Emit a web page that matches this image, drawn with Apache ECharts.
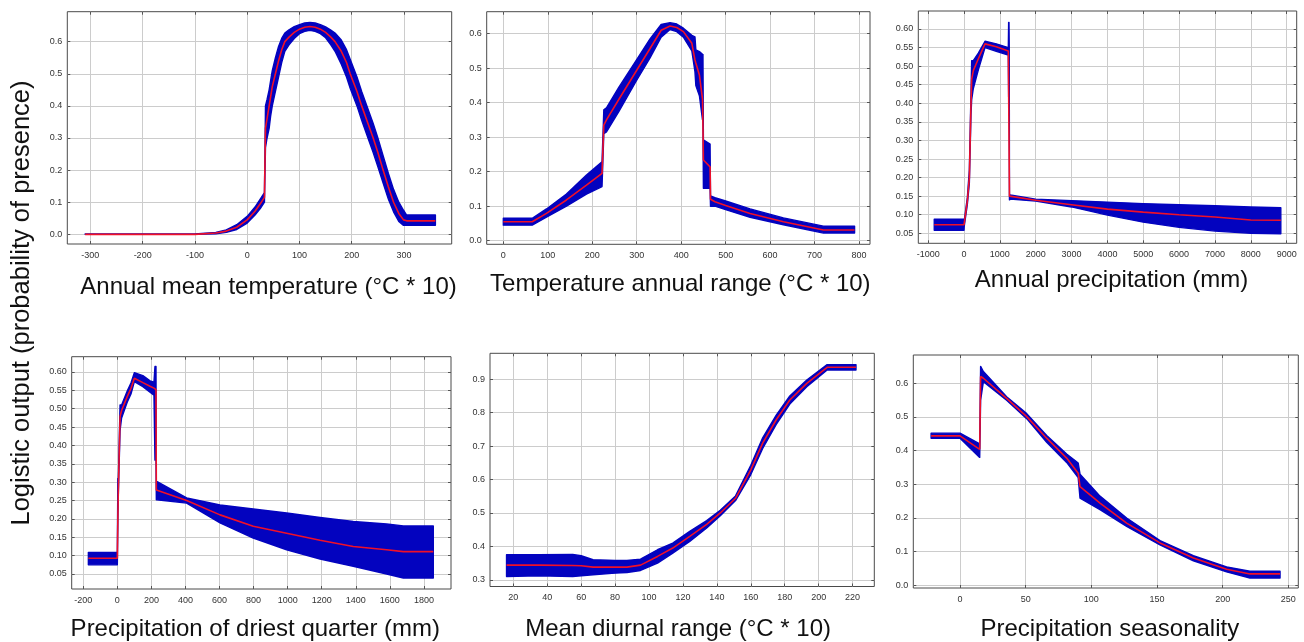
<!DOCTYPE html>
<html><head><meta charset="utf-8">
<script src="https://cdn.jsdelivr.net/npm/echarts@6/dist/echarts.min.js"></script>
<style>html,body{margin:0;padding:0;background:#fff}#c{width:1304px;height:642px}</style>
</head><body><div id="c"></div>
<script>
// ---------- Titles ----------
const yTitle = 'Logistic output (probability of presence)';
const titles = [
  'Annual mean temperature (°C * 10)',
  'Temperature annual range (°C * 10)',
  'Annual precipitation (mm)',
  'Precipitation of driest quarter (mm)',
  'Mean diurnal range (°C * 10)',
  'Precipitation seasonality'
];

// ---------- Tick values ----------
const p1XTicks = [-300,-200,-100,0,100,200,300];
const p1YTicks = [0,0.1,0.2,0.3,0.4,0.5,0.6];
const p2XTicks = [0,100,200,300,400,500,600,700,800];
const p2YTicks = [0,0.1,0.2,0.3,0.4,0.5,0.6];
const p3XTicks = [-1000,0,1000,2000,3000,4000,5000,6000,7000,8000,9000];
const p3YTicks = [0.05,0.10,0.15,0.20,0.25,0.30,0.35,0.40,0.45,0.50,0.55,0.60];
const p4XTicks = [-200,0,200,400,600,800,1000,1200,1400,1600,1800];
const p4YTicks = [0.05,0.10,0.15,0.20,0.25,0.30,0.35,0.40,0.45,0.50,0.55,0.60];
const p5XTicks = [20,40,60,80,100,120,140,160,180,200,220];
const p5YTicks = [0.3,0.4,0.5,0.6,0.7,0.8,0.9];
const p6XTicks = [0,50,100,150,200,250];
const p6YTicks = [0,0.1,0.2,0.3,0.4,0.5,0.6];

// ---------- Panel 1: Annual mean temperature ----------
const p1X    = [-310,-100,-60,-40,-20,0,15,25,33,35,38,42,45,48,54,60,66,72,80,90,100,110,120,130,140,150,160,168,180,190,197,210,219,230,241,250,260,270,280,290,299,305,360];
const p1Mean = [0,0,0.004,0.01,0.022,0.045,0.072,0.095,0.115,0.33,0.36,0.40,0.43,0.46,0.50,0.54,0.575,0.60,0.614,0.629,0.639,0.645,0.647,0.645,0.639,0.629,0.614,0.60,0.57,0.535,0.50,0.445,0.40,0.35,0.30,0.255,0.20,0.148,0.10,0.065,0.045,0.042,0.042];
const p1Lo   = [0,0,0.002,0.006,0.015,0.035,0.06,0.08,0.10,0.27,0.30,0.33,0.37,0.40,0.445,0.49,0.535,0.57,0.59,0.61,0.625,0.632,0.635,0.632,0.625,0.612,0.59,0.57,0.53,0.49,0.455,0.40,0.355,0.305,0.255,0.21,0.16,0.11,0.07,0.04,0.028,0.028,0.028];
const p1Hi   = [0.001,0.001,0.006,0.014,0.03,0.056,0.085,0.11,0.13,0.40,0.42,0.45,0.48,0.51,0.55,0.585,0.61,0.627,0.637,0.647,0.653,0.658,0.66,0.658,0.653,0.646,0.636,0.627,0.605,0.575,0.545,0.49,0.445,0.395,0.345,0.30,0.245,0.19,0.14,0.10,0.075,0.06,0.06];

// ---------- Panel 2: Temperature annual range ----------
const p2X    = [0,65,97,142,187,222,226,232,260,300,330,355,375,390,405,424,431,433,441,448,449,450,465,466,476,500,555,630,720,790];
const p2Mean = [0.055,0.055,0.079,0.118,0.161,0.195,0.335,0.35,0.41,0.494,0.557,0.61,0.622,0.618,0.606,0.572,0.524,0.515,0.48,0.41,0.33,0.234,0.214,0.12,0.113,0.102,0.079,0.055,0.031,0.031];
const p2Lo   = [0.045,0.045,0.068,0.10,0.135,0.157,0.31,0.315,0.375,0.465,0.53,0.59,0.612,0.606,0.59,0.55,0.49,0.45,0.42,0.35,0.35,0.152,0.152,0.10,0.10,0.09,0.068,0.046,0.022,0.022];
const p2Hi   = [0.065,0.065,0.092,0.135,0.19,0.229,0.379,0.385,0.445,0.525,0.585,0.627,0.632,0.628,0.616,0.595,0.591,0.553,0.548,0.54,0.54,0.292,0.28,0.13,0.125,0.115,0.092,0.066,0.042,0.042];

// ---------- Panel 3: Annual precipitation ----------
const p3X    = [-830,0,5,93,149,195,214,260,400,586,900,1236,1245,1255,1262,1268,1290,2000,3000,4000,5000,6000,7000,8000,8837];
const p3Mean = [0.073,0.073,0.075,0.137,0.20,0.40,0.465,0.488,0.52,0.56,0.552,0.541,0.54,0.54,0.54,0.15,0.148,0.139,0.127,0.115,0.107,0.1,0.094,0.086,0.085];
const p3Lo   = [0.058,0.058,0.068,0.128,0.185,0.37,0.41,0.44,0.49,0.55,0.54,0.53,0.416,0.416,0.53,0.14,0.142,0.137,0.121,0.099,0.08,0.066,0.056,0.05,0.049];
const p3Hi   = [0.088,0.088,0.083,0.146,0.22,0.43,0.515,0.515,0.535,0.567,0.56,0.55,0.618,0.618,0.55,0.155,0.153,0.142,0.138,0.134,0.13,0.127,0.124,0.121,0.119];

// ---------- Panel 4: Precipitation of driest quarter ----------
const p4X    = [-170,0,3,6,16,25,60,80,100,150,192,215,221,227,229,231,407,603,798,994,1190,1385,1581,1679,1855];
const p4Mean = [0.093,0.093,0.20,0.28,0.479,0.495,0.535,0.555,0.583,0.571,0.561,0.556,0.554,0.552,0.279,0.277,0.25,0.211,0.18,0.161,0.142,0.125,0.116,0.111,0.111];
const p4Lo   = [0.075,0.075,0.19,0.27,0.44,0.475,0.52,0.54,0.574,0.56,0.545,0.537,0.36,0.36,0.252,0.252,0.243,0.189,0.148,0.116,0.091,0.071,0.05,0.039,0.039];
const p4Hi   = [0.109,0.109,0.31,0.31,0.51,0.51,0.55,0.57,0.598,0.59,0.576,0.572,0.615,0.615,0.302,0.302,0.257,0.238,0.227,0.216,0.204,0.193,0.186,0.181,0.181];

// ---------- Panel 5: Mean diurnal range ----------
const p5X    = [16,35,55,60,67,80,87,95,105,114,124,134,142,151,160,167,175,183,193,205,222];
const p5Mean = [0.344,0.344,0.343,0.342,0.338,0.338,0.338,0.344,0.37,0.395,0.43,0.466,0.5,0.544,0.629,0.709,0.779,0.838,0.888,0.936,0.936];
const p5Lo   = [0.31,0.312,0.31,0.312,0.315,0.32,0.322,0.328,0.35,0.38,0.415,0.455,0.492,0.537,0.615,0.693,0.765,0.826,0.878,0.928,0.928];
const p5Hi   = [0.375,0.375,0.376,0.372,0.36,0.358,0.358,0.362,0.39,0.41,0.445,0.477,0.508,0.551,0.643,0.725,0.793,0.85,0.898,0.944,0.944];

// ---------- Panel 6: Precipitation seasonality ----------
const p6X    = [-22,0,15,15.7,17.8,35.5,50.8,66,81.2,90,91.4,106.6,126.9,152.3,177.7,203,220.8,243.7];
const p6Mean = [0.444,0.444,0.404,0.62,0.615,0.555,0.501,0.437,0.378,0.333,0.293,0.244,0.185,0.126,0.081,0.048,0.034,0.034];
const p6Lo   = [0.437,0.437,0.38,0.55,0.605,0.55,0.495,0.425,0.365,0.32,0.259,0.225,0.175,0.12,0.073,0.04,0.022,0.022];
const p6Hi   = [0.452,0.452,0.42,0.65,0.635,0.56,0.51,0.445,0.39,0.363,0.33,0.265,0.2,0.133,0.088,0.055,0.042,0.042];

// ---------- Assembly ----------
const BLUE = '#0303bf';
const RED = '#f01028';
const FONT = 'Liberation Sans, Arial, sans-serif';

const panels = [
  {xs:p1X, mean:p1Mean, lo:p1Lo, hi:p1Hi, xt:p1XTicks, yt:p1YTicks},
  {xs:p2X, mean:p2Mean, lo:p2Lo, hi:p2Hi, xt:p2XTicks, yt:p2YTicks},
  {xs:p3X, mean:p3Mean, lo:p3Lo, hi:p3Hi, xt:p3XTicks, yt:p3YTicks},
  {xs:p4X, mean:p4Mean, lo:p4Lo, hi:p4Hi, xt:p4XTicks, yt:p4YTicks},
  {xs:p5X, mean:p5Mean, lo:p5Lo, hi:p5Hi, xt:p5XTicks, yt:p5YTicks},
  {xs:p6X, mean:p6Mean, lo:p6Lo, hi:p6Hi, xt:p6XTicks, yt:p6YTicks}
];
// shift = horizontal offset of the axis title from the plot centre (px)
const layout = [
  {grid:[67.3,11.7,384.4,232.3], x:[-344.1,391.2], y:[-0.0301,0.6933], gap:31, dec:1, shift:9},
  {grid:[486.7,11.7,383.3,232.6], x:[-37.4,824.7], y:[-0.0105,0.6637], gap:28, dec:1, shift:2},
  {grid:[918.3,11,378.4,232.3], x:[-1275,9280], y:[0.0231,0.6485], gap:25.5, dec:2, shift:4},
  {grid:[71.7,356.7,379.3,232.6], x:[-267.9,1958.9], y:[0.0092,0.6416], gap:28, dec:2, shift:-6},
  {grid:[490,353.3,384.3,233.4], x:[6.25,232.8], y:[0.28,0.9778], gap:30.5, dec:1, shift:-4},
  {grid:[913.3,355,385,233.3], x:[-35.56,257.6], y:[-0.0078,0.684], gap:29, dec:1, shift:4}
];

const grids = [], xAxes = [], yAxes = [], series = [];
const tickStyle = {show:true, inside:true, length:3, lineStyle:{color:'#555', width:1}};
panels.forEach((p, i) => {
  const L = layout[i];
  const pad = L.shift >= 0 ? [0, 0, 0, 2 * L.shift] : [0, -2 * L.shift, 0, 0];
  grids.push({left:L.grid[0], top:L.grid[1], width:L.grid[2], height:L.grid[3],
    show:true, borderColor:'#4a4a4a', borderWidth:1, backgroundColor:'#fff'});
  xAxes.push({
    type:'value', gridIndex:i, position:'bottom', min:L.x[0], max:L.x[1],
    name:titles[i], nameLocation:'middle', nameGap:L.gap,
    nameTextStyle:{fontSize:24, color:'#111', fontFamily:FONT, padding:pad},
    axisLine:{show:false, onZero:false},
    axisTick:Object.assign({customValues:p.xt}, tickStyle),
    axisLabel:{customValues:p.xt, fontSize:9, color:'#333', fontFamily:FONT, margin:7,
      formatter:v => String(Math.round(v))},
    splitLine:{show:true, lineStyle:{color:'#cccccc', width:1}}
  });
  xAxes.push({
    type:'value', gridIndex:i, position:'top', min:L.x[0], max:L.x[1],
    axisLine:{show:false, onZero:false}, axisLabel:{show:false}, splitLine:{show:false},
    axisTick:Object.assign({customValues:p.xt}, tickStyle)
  });
  yAxes.push({
    type:'value', gridIndex:i, position:'left', min:L.y[0], max:L.y[1],
    axisLine:{show:false, onZero:false},
    axisTick:Object.assign({customValues:p.yt}, tickStyle),
    axisLabel:{customValues:p.yt, fontSize:9, color:'#333', fontFamily:FONT, margin:5,
      formatter:v => v.toFixed(L.dec)},
    splitLine:{show:true, lineStyle:{color:'#cccccc', width:1}}
  });
  yAxes.push({
    type:'value', gridIndex:i, position:'right', min:L.y[0], max:L.y[1],
    axisLine:{show:false, onZero:false}, axisLabel:{show:false}, splitLine:{show:false},
    axisTick:Object.assign({customValues:p.yt}, tickStyle)
  });
  const xs = p.xs, lo = p.lo, hi = p.hi;
  series.push({
    type:'custom', xAxisIndex:2*i, yAxisIndex:2*i, clip:true, silent:true, z:2,
    data: xs.map((x,k) => [x, lo[k], hi[k]]),
    encode:{x:0, y:[1,2]},
    renderItem:function(params, api){
      if (params.dataIndex !== 0) return null;
      const pts = [];
      for (let k = 0; k < xs.length; k++) pts.push(api.coord([xs[k], hi[k]]));
      for (let k = xs.length - 1; k >= 0; k--) pts.push(api.coord([xs[k], lo[k]]));
      return {type:'polygon', shape:{points:pts},
        style:{fill:BLUE, stroke:BLUE, lineWidth:1.4, lineJoin:'round'}};
    }
  });
  series.push({
    type:'line', xAxisIndex:2*i, yAxisIndex:2*i, z:3, silent:true,
    symbol:'none', showSymbol:false,
    lineStyle:{color:RED, width:1.6},
    data: xs.map((x,k) => [x, p.mean[k]])
  });
});

const chart = echarts.init(document.getElementById('c'), null, {renderer:'canvas'});
chart.setOption({
  animation:false,
  backgroundColor:'#fff',
  grid:grids, xAxis:xAxes, yAxis:yAxes, series:series,
  graphic:[{
    type:'text', x:22, y:303, rotation:Math.PI/2,
    style:{text:yTitle, fontSize:25.5, fontFamily:FONT, fill:'#111',
      align:'center', verticalAlign:'middle', textAlign:'center', textVerticalAlign:'middle'}
  }]
});
</script>
</body></html>
